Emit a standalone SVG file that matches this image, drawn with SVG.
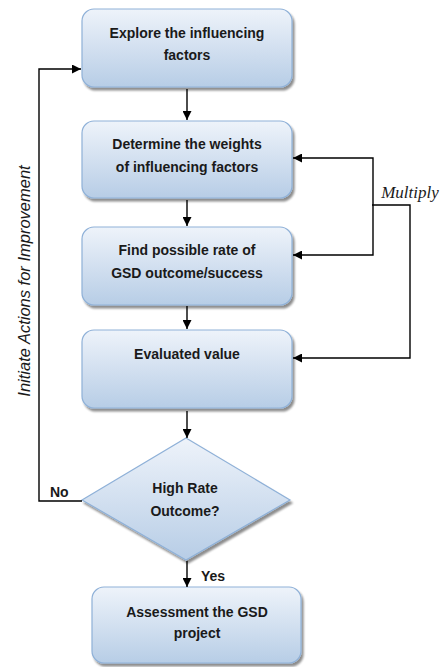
<svg xmlns="http://www.w3.org/2000/svg" width="443" height="667" viewBox="0 0 443 667">
<defs>
<linearGradient id="g" x1="0" y1="0" x2="0" y2="1">
<stop offset="0" stop-color="#eef3fa"/>
<stop offset="1" stop-color="#b7cde6"/>
</linearGradient>
<filter id="sh" x="-10%" y="-10%" width="130%" height="130%">
<feGaussianBlur in="SourceAlpha" stdDeviation="1.2"/>
<feOffset dx="2" dy="3" result="b"/>
<feComponentTransfer><feFuncA type="linear" slope="0.45"/></feComponentTransfer>
<feMerge><feMergeNode/><feMergeNode in="SourceGraphic"/></feMerge>
</filter>
<marker id="ah" viewBox="0 0 10 10" refX="10" refY="5" markerWidth="9" markerHeight="9" markerUnits="userSpaceOnUse" orient="auto">
<path d="M0,0 L10,5 L0,10 z" fill="#000"/>
</marker>
</defs>
<style>
.box{fill:url(#g);stroke:#8fb1d8;stroke-width:1.2;filter:url(#sh)}
.t{font-family:"Liberation Sans",Arial,sans-serif;font-weight:bold;font-size:14px;fill:#1a1a1a;text-anchor:middle}
.c{fill:none;stroke:#000;stroke-width:1.4}
.a{marker-end:url(#ah)}
</style>
<rect width="443" height="667" fill="#fff"/>
<g id="n1">
<rect class="box" x="82" y="9" width="210" height="78" rx="12"/>
<text class="t" x="187" y="38">Explore the influencing</text>
<text class="t" x="187" y="60">factors</text>
</g>
<g id="n2">
<rect class="box" x="82" y="121" width="210" height="77" rx="12"/>
<text class="t" x="187" y="149">Determine the weights</text>
<text class="t" x="187" y="172">of influencing factors</text>
</g>
<g id="n3">
<rect class="box" x="82" y="227" width="210" height="78" rx="12"/>
<text class="t" x="187" y="255">Find possible rate of</text>
<text class="t" x="187" y="278">GSD outcome/success</text>
</g>
<g id="n4">
<rect class="box" x="82" y="330" width="210" height="78" rx="12"/>
<text class="t" x="187" y="359">Evaluated value</text>
</g>
<g id="n5">
<polygon class="box" points="186,438 290,500 186,560 82,500"/>
<text class="t" x="185" y="493">High Rate</text>
<text class="t" x="185" y="516">Outcome?</text>
</g>
<g id="n6">
<rect class="box" x="92" y="587" width="209" height="76" rx="12"/>
<text class="t" x="197" y="617">Assessment the GSD</text>
<text class="t" x="197" y="638">project</text>
</g>
<g id="connectors">
<line class="c a" x1="187" y1="89" x2="187" y2="120"/>
<line class="c a" x1="187" y1="200" x2="187" y2="226"/>
<line class="c a" x1="187" y1="306" x2="187" y2="329"/>
<line class="c a" x1="187" y1="411" x2="187" y2="438"/>
<line class="c a" x1="187" y1="561" x2="187" y2="587"/>
<polyline class="c a" points="82,501 39,501 39,69 81,69"/>
<polyline class="c a" points="373,205 373,158 293,158"/>
<polyline class="c a" points="373,205 373,255 293,255"/>
<polyline class="c a" points="372,205 410,205 410,358 293,358"/>
<text x="50" y="497" class="t" style="text-anchor:start">No</text>
<text x="201" y="581" class="t" style="text-anchor:start">Yes</text>
<text x="410" y="198" style="font-family:'Liberation Serif',serif;font-style:italic;font-size:17px;text-anchor:middle;fill:#1a1a1a">Multiply</text>
<text transform="translate(30,281) rotate(-90)" x="0" y="0" style="font-family:'Liberation Sans',Arial,sans-serif;font-style:italic;font-size:16.5px;text-anchor:middle;fill:#1a1a1a">Initiate Actions for Improvement</text>
</g>
</svg>
